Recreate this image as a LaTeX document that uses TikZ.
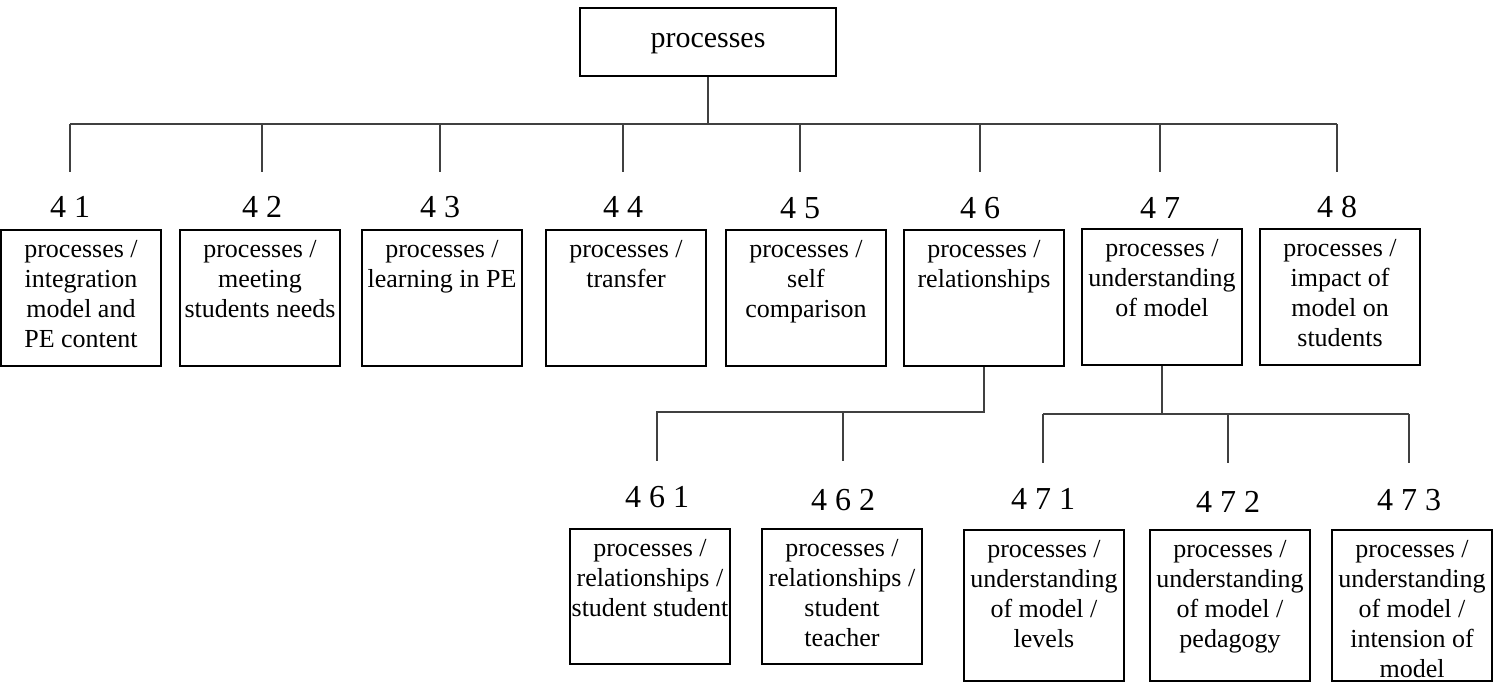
\documentclass[tikz,border=0pt]{standalone}
\usepackage{fontspec}
\setmainfont{Liberation Serif}
\usepackage{tikz}
\tikzset{topbox/.style={draw, line width=1pt, minimum width=128pt, minimum height=34pt, text height=9pt, text depth=3.3pt, font=\fontsize{15}{17}\selectfont}}
\tikzset{catbox/.style={draw, line width=1pt, minimum width=80pt, minimum height=#1, inner sep=0pt}}
\tikzset{catbox/.default=68pt}
\tikzset{cattext/.style={anchor=north, align=center, inner sep=0pt, yshift=-5.5pt, font=\fontsize{13}{15}\selectfont}}
\tikzset{catnum/.style={anchor=base, inner sep=0pt, font=\fontsize{16}{18}\selectfont}}
\tikzset{link/.style={line width=0.6pt, black!75}}

\begin{document}
\begin{tikzpicture}[x=0.5pt, y=-0.5pt]
            \useasboundingbox (0,0) rectangle (1504,682);
            \node[topbox] (top) at (708,42) {processes};
            % first level
            \node[catnum] (n41) at (70,217) {4 1};
            \node[catnum] (n42) at (262,217) {4 2};
            \node[catnum] (n43) at (440,217) {4 3};
            \node[catnum] (n44) at (623,217) {4 4};
            \node[catnum] (n45) at (800,218) {4 5};
            \node[catnum] (n46) at (980,218) {4 6};
            \node[catnum] (n47) at (1160,218) {4 7};
            \node[catnum] (n48) at (1337,217) {4 8};
            \node[catbox, label={[cattext]north:{processes /\\integration\\model and\\PE content}}] (b41) at (81,298) {};
            \node[catbox, label={[cattext]north:{processes /\\meeting\\students needs}}] (b42) at (260,298) {};
            \node[catbox, label={[cattext]north:{processes /\\learning in PE}}] (b43) at (442,298) {};
            \node[catbox, label={[cattext]north:{processes /\\transfer}}] (b44) at (626,298) {};
            \node[catbox, label={[cattext]north:{processes /\\self\\comparison}}] (b45) at (806,298) {};
            \node[catbox, label={[cattext]north:{processes /\\relationships}}] (b46) at (984,298) {};
            \node[catbox, label={[cattext]north:{processes /\\understanding\\of model}}] (b47) at (1162,297) {};
            \node[catbox, label={[cattext]north:{processes /\\impact of\\model on\\students}}] (b48) at (1340,297) {};
            \coordinate (bar) at (0,124);
            \draw[link] (top.south) -- (top.south |- bar);
            \draw[link] (bar -| n41) -- (bar -| n48);
            \foreach \k in {41,...,48} {\draw[link] (bar -| n\k) -- ++(0,48);}
            % second level
            \node[catnum] (n461) at (657,507) {4 6 1};
            \node[catnum] (n462) at (843,510) {4 6 2};
            \node[catnum] (n471) at (1043,509) {4 7 1};
            \node[catnum] (n472) at (1228,512) {4 7 2};
            \node[catnum] (n473) at (1409,510) {4 7 3};
            \node[catbox=67.5pt, label={[cattext]north:{processes /\\relationships /\\student student}}] (b461) at (650,596) {};
            \node[catbox=67.5pt, label={[cattext]north:{processes /\\relationships /\\student\\teacher}}] (b462) at (842,596) {};
            \node[catbox=75.5pt, label={[cattext]north:{processes /\\understanding\\of model /\\levels}}] (b471) at (1044,605) {};
            \node[catbox=75.5pt, label={[cattext]north:{processes /\\understanding\\of model /\\pedagogy}}] (b472) at (1230,605) {};
            \node[catbox=75.5pt, label={[cattext]north:{processes /\\understanding\\of model /\\intension of\\model}}] (b473) at (1412,605) {};
            \draw[link] (b46.south) |- (n461 |- 0,412) -- ++(0,49);
            \draw[link] (n462 |- 0,412) -- ++(0,49);
            \draw[link] (b47.south) -- (b47.south |- 0,414);
            \draw[link] (n471 |- 0,414) -- (n473 |- 0,414);
            \foreach \k in {471,472,473} {\draw[link] (n\k |- 0,414) -- ++(0,49);}
        \end{tikzpicture}
\end{document}
